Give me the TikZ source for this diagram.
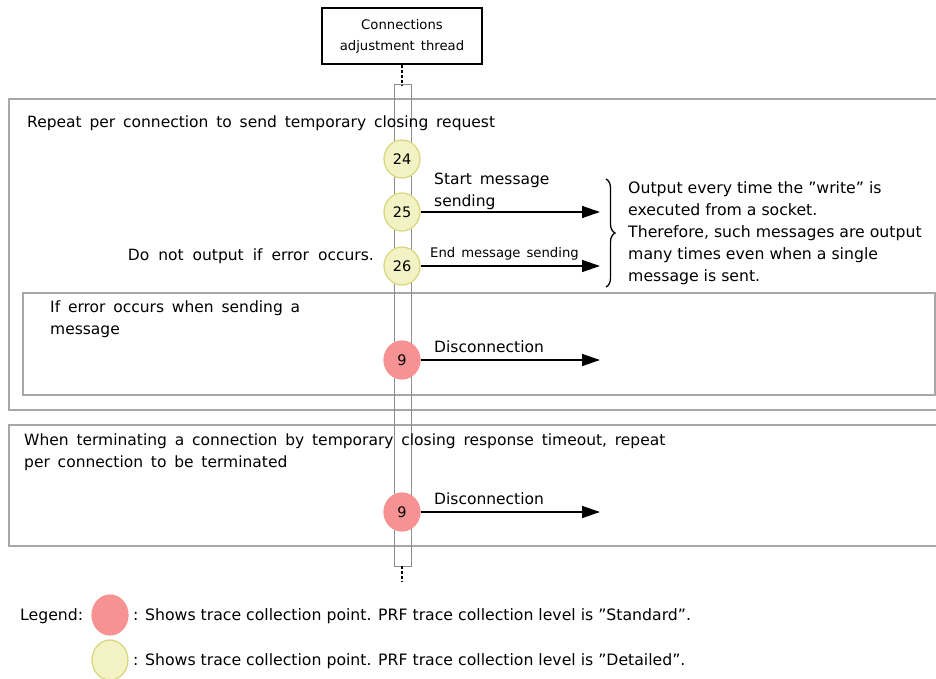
\documentclass[tikz,border=0pt]{standalone}
\usepackage{fontspec}
\setmainfont{DejaVu Sans}
\usetikzlibrary{arrows.meta,decorations.pathreplacing,shapes.geometric}
\definecolor{boxgray}{HTML}{A8A8A8}
\definecolor{lifegray}{HTML}{8C8C8C}
\definecolor{yfill}{HTML}{F2F2C4}
\definecolor{ydraw}{HTML}{D6D67A}
\definecolor{rfill}{HTML}{F79292}
\newcommand{\widesp}{\spaceskip=7.8pt plus 1pt\relax}
\newcommand{\widersp}{\spaceskip=9pt plus 1pt\relax}
\newcommand{\smallsp}{\spaceskip=6pt plus 1pt\relax}
\tikzset{
  frame/.style={draw=boxgray, line width=1.2pt},
  txt/.style={anchor=west, inner sep=0pt, yshift=-1.5pt, font=\fontsize{15.5}{22}\selectfont, align=left},
  legtxt/.style={txt, font=\fontsize{15.7}{22}\selectfont},
  widetxt/.style={txt, font=\fontsize{15.5}{22}\selectfont\widesp},
  smalltxt/.style={anchor=west, inner sep=0pt, yshift=-1pt, font=\fontsize{13.2}{21}\selectfont\smallsp, align=center},
  ypt/.style={ellipse, minimum width=36pt, minimum height=38pt, fill=yfill, draw=ydraw, line width=1.2pt, inner sep=0pt, font=\fontsize{14.5}{16}\selectfont},
  rpt/.style={ellipse, minimum width=36pt, minimum height=38pt, fill=rfill, draw=rfill, line width=1.2pt, inner sep=0pt, font=\fontsize{14.5}{16}\selectfont},
  msg/.style={-{Triangle[length=18pt,width=12pt]}, line width=1.4pt},
}
\begin{document}
\begin{tikzpicture}[x=1pt,y=-1pt]
\useasboundingbox (0,0) rectangle (936,679);
% frames
\draw[frame] (9,99) rectangle (940,410);
\draw[frame] (23,293) rectangle (935,395);
\draw[frame] (9,425) rectangle (940,546);
% thread box
\node[draw, line width=1.6pt, minimum width=160pt, minimum height=56pt, align=center, font=\fontsize{13.2}{21}\selectfont\smallsp] (thr) at (402,36) {Connections\\adjustment thread};
% lifeline
\draw[lifegray, line width=1pt] (394,85) rectangle (411,566);
\coordinate (lt) at (402,85);
\coordinate (lb) at (402,566);
\coordinate (le) at (402,582);
\draw[line width=1.6pt, dash pattern=on 3pt off 2pt] (thr.south) -- (lt);
\draw[line width=1.6pt, dash pattern=on 3pt off 2pt] (lb) -- (le);
% texts
\node[widetxt] (t1) at (27,122) {Repeat per connection to send temporary closing request};
\node[widetxt] (t2) at (50,318) {If error occurs when sending a\\message};
\node[widetxt] (t3) at (24,451) {When terminating a connection by temporary closing response timeout, repeat\\per connection to be terminated};
% points
\node[ypt] (p24) at (402,159) {24};
\node[ypt] (p25) at (402,212) {25};
\node[ypt] (p26) at (402,266) {26};
\node[rpt] (p9a) at (402,360) {9};
\node[rpt] (p9b) at (402,512) {9};
\coordinate (e25) at (600,212);
\coordinate (e26) at (600,266);
\coordinate (e9a) at (600,360);
\coordinate (e9b) at (600,512);
\draw[msg] (p25.east) -- (e25);
\draw[msg] (p26.east) -- (e26);
\draw[msg] (p9a.east) -- (e9a);
\draw[msg] (p9b.east) -- (e9b);
\node[widetxt] (l25) at (434,190) {Start message\\sending};
\node[smalltxt] (l26) at (430,253) {End message sending};
\node[txt] (l9a) at (434,345) {Disconnection};
\node[txt] (l9b) at (434,497) {Disconnection};
\node[txt, anchor=east, font=\fontsize{15.5}{22}\selectfont\widersp] (dn) at (374,255) {Do not output if error occurs.};
% brace
\coordinate (bt) at (606,179);
\coordinate (bb) at (606,287);
\draw[line width=1.3pt, decorate, decoration={brace, amplitude=9pt}] (bt) -- (bb);
\node[legtxt] (note) at (628,232) {Output every time the ”write” is\\executed from a socket.\\Therefore, such messages are output\\many times even when a single\\message is sent.};
% legend
\node[legtxt] (leg) at (20,615) {Legend:};
\node[rpt, minimum height=40pt] (lr) at (110,615) {};
\node[legtxt] (lrt) at (133,615) {: Shows trace collection point. PRF trace collection level is ”Standard”.};
\node[ypt, minimum height=40pt] (ly) at (110,660) {};
\node[legtxt] (lyt) at (133,660) {: Shows trace collection point. PRF trace collection level is ”Detailed”.};
\end{tikzpicture}
\end{document}
